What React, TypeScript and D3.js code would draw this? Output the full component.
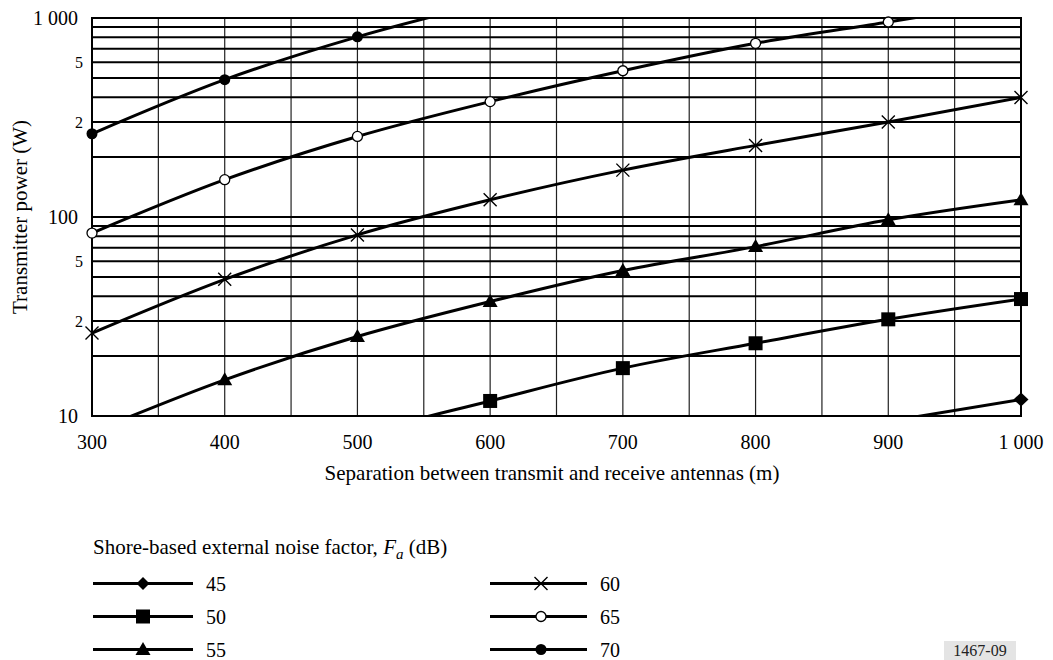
import React from 'react';
import * as d3 from 'd3';

// ---------- data ----------
const DISTANCES = [300, 400, 500, 600, 700, 800, 900, 1000];
const P45 = [0.83, 1.53, 2.54, 3.8, 5.43, 7.28, 9.4, 12.1];
const P50 = [2.6, 4.85, 8.0, 11.9, 17.4, 23.2, 30.6, 38.7];
const P55 = [8.3, 15.2, 25.1, 37.6, 53.8, 71, 96.8, 122];
const P60 = [26.1, 48.6, 81.3, 122, 172, 229, 300, 399];
const P65 = [83, 154, 254, 380, 543, 746, 955, 1225];
const P70 = [262, 490, 804, 1202, 1718, 2360, 3030, 3870];
const SERIES_NAMES = ['45', '50', '55', '60', '65', '70'];
const SERIES_VALUES = [P45, P50, P55, P60, P65, P70];
const SERIES_MARKERS = ['diamond', 'square', 'triangle', 'cross', 'open', 'filled'];

const X_TICK_VALUES = [300, 400, 500, 600, 700, 800, 900, 1000];
const X_TICK_LABELS = ['300', '400', '500', '600', '700', '800', '900', '1 000'];
const X_GRID = [300, 350, 400, 450, 500, 550, 600, 650, 700, 750, 800, 850, 900, 950, 1000];
const Y_GRID = [10, 20, 30, 40, 50, 60, 70, 80, 90, 100, 200, 300, 400, 500, 600, 700, 800, 900, 1000];
const Y_TICK_VALUES = [1000, 600, 300, 100, 60, 30, 10];
const Y_TICK_LABELS = ['1 000', '5', '2', '100', '5', '2', '10'];
const Y_TICK_SMALL = [false, true, true, false, true, true, false];

const X_TITLE = 'Separation between transmit and receive antennas (m)';
const Y_TITLE = 'Transmitter power (W)';
const LEGEND_TITLE = 'Shore-based external noise factor, ';
const FIG_ID = '1467-09';

// ---------- layout ----------
const W = 1053;
const H = 660;
const M = { left: 92, right: 1021, top: 18, bottom: 416 };
const FONT = '"Liberation Serif", "Times New Roman", serif';

const x = d3.scaleLinear().domain([300, 1000]).range([M.left, M.right]);
const y = d3.scaleLog().domain([10, 1000]).range([M.bottom, M.top]);

function Marker({ type, cx, cy, legend }: { type: string; cx: number; cy: number; legend?: boolean }) {
  switch (type) {
    case 'diamond': {
      const w = legend ? 6.5 : 7.5, h = legend ? 6.5 : 7;
      return <path d={`M${cx},${cy - h}L${cx + w},${cy}L${cx},${cy + h}L${cx - w},${cy}Z`} fill="#000" />;
    }
    case 'square':
      return <rect x={cx - 7} y={cy - 7} width={14} height={14} fill="#000" />;
    case 'triangle':
      return <path d={`M${cx},${cy - 7.5}L${cx + 7.5},${cy + 5.5}L${cx - 7.5},${cy + 5.5}Z`} fill="#000" />;
    case 'cross': {
      const s = 6.5;
      return (
        <path
          d={`M${cx - s},${cy - s}L${cx + s},${cy + s}M${cx - s},${cy + s}L${cx + s},${cy - s}`}
          stroke="#000"
          strokeWidth={1.4}
          fill="none"
        />
      );
    }
    case 'open':
      return <circle cx={cx} cy={cy} r={5} fill="#fff" stroke="#000" strokeWidth={1.3} />;
    case 'filled':
      return <circle cx={cx} cy={cy} r={5.5} fill="#000" />;
    default:
      return null;
  }
}

export default function App() {
  const line = d3
    .line<number>()
    .x((_, i) => x(DISTANCES[i]))
    .y((d) => y(d))
    .curve(d3.curveMonotoneX);

  const legendRows = [583.5, 616.5, 649.5];
  const legendCols = [
    { x1: 93, x2: 193, mx: 143, tx: 206 },
    { x1: 490, x2: 587, mx: 541, tx: 600 },
  ];

  return (
    <svg
      width={W}
      height={H}
      viewBox={`0 0 ${W} ${H}`}
      style={{ position: 'absolute', left: 0, top: 0, background: '#fff', fontFamily: FONT }}
    >
      <rect x={0} y={0} width={W} height={H} fill="#fff" />
      <defs>
        <clipPath id="plotClip">
          <rect x={M.left} y={M.top} width={M.right - M.left} height={M.bottom - M.top} />
        </clipPath>
      </defs>

      {/* vertical grid */}
      {X_GRID.map((v) => (
        <line key={'vx' + v} x1={x(v)} x2={x(v)} y1={M.top} y2={M.bottom} stroke="#222" strokeWidth={1.2} />
      ))}
      {/* horizontal grid */}
      {Y_GRID.map((v) => (
        <line key={'hy' + v} x1={M.left} x2={M.right} y1={y(v)} y2={y(v)} stroke="#000" strokeWidth={2} />
      ))}
      {/* frame */}
      <rect
        x={M.left}
        y={M.top}
        width={M.right - M.left}
        height={M.bottom - M.top}
        fill="none"
        stroke="#000"
        strokeWidth={2}
      />

      {/* series lines */}
      <g clipPath="url(#plotClip)">
        {SERIES_VALUES.map((vals, si) => (
          <path key={'l' + si} d={line(vals) || ''} fill="none" stroke="#000" strokeWidth={3} />
        ))}
      </g>
      {/* markers */}
      {SERIES_VALUES.map((vals, si) =>
        vals.map((v, i) =>
          v >= 10 && v <= 1000 ? (
            <Marker key={`m${si}-${i}`} type={SERIES_MARKERS[si]} cx={x(DISTANCES[i])} cy={y(v)} />
          ) : null
        )
      )}

      {/* y tick labels */}
      {Y_TICK_VALUES.map((v, i) => (
        <text
          key={'yt' + i}
          x={Y_TICK_SMALL[i] ? 83 : 78}
          y={y(v)}
          dy="0.35em"
          textAnchor="end"
          fontSize={Y_TICK_SMALL[i] ? 16 : 20}
          fill="#000"
        >
          {Y_TICK_LABELS[i]}
        </text>
      ))}
      {/* x tick labels */}
      {X_TICK_VALUES.map((v, i) => (
        <text key={'xt' + v} x={x(v)} y={442} dy="0.35em" textAnchor="middle" fontSize={20} fill="#000">
          {X_TICK_LABELS[i]}
        </text>
      ))}

      {/* axis titles */}
      <text x={552} y={473} dy="0.35em" textAnchor="middle" fontSize={21} fill="#000">
        {X_TITLE}
      </text>
      <text transform={`translate(27,217) rotate(-90)`} textAnchor="middle" fontSize={21} fill="#000">
        {Y_TITLE}
      </text>

      {/* legend */}
      <text x={93} y={547} dy="0.35em" fontSize={21} fill="#000">
        {LEGEND_TITLE}
        <tspan fontStyle="italic">F</tspan>
        <tspan fontStyle="italic" fontSize={15} dy={5}>a</tspan>
        <tspan dy={-5}> (dB)</tspan>
      </text>
      {SERIES_NAMES.map((name, si) => {
        const col = legendCols[Math.floor(si / 3)];
        const ry = legendRows[si % 3];
        return (
          <g key={'lg' + si}>
            <line x1={col.x1} x2={col.x2} y1={ry} y2={ry} stroke="#000" strokeWidth={3.2} />
            <Marker type={SERIES_MARKERS[si]} cx={col.mx} cy={ry} legend />
            <text x={col.tx} y={ry} dy="0.35em" fontSize={20} fill="#000">
              {name}
            </text>
          </g>
        );
      })}

      {/* figure id */}
      <rect x={944} y={641} width={72} height={19} fill="#e4e4e4" />
      <text x={980} y={656} textAnchor="middle" fontSize={16} fill="#222">
        {FIG_ID}
      </text>
    </svg>
  );
}
